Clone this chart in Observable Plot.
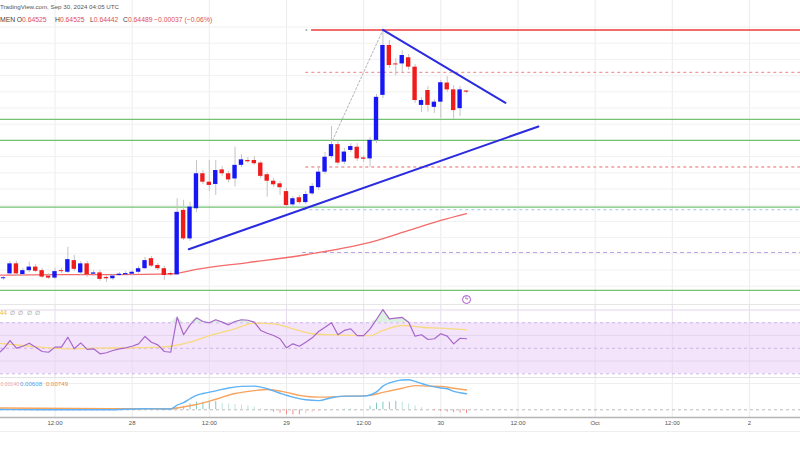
<!DOCTYPE html>
<html><head><meta charset="utf-8">
<script src="https://cdn.jsdelivr.net/npm/d3@7"></script>
<script src="https://cdn.jsdelivr.net/npm/@observablehq/plot@0.6"></script>
<style>
html,body{margin:0;padding:0;background:#fff;}
#wrap{position:relative;width:800px;height:450px;overflow:hidden;background:#fff;font-family:"Liberation Sans",Arial,sans-serif;}
#wrap svg{position:absolute;left:0;overflow:hidden;}
.t{position:absolute;white-space:pre;line-height:1;}
.sep{position:absolute;left:0;width:800px;height:1px;}
</style></head><body><div id="wrap"></div>
<script>
// ---------- DATA (hours since 27 Sep 2024 00:00 UTC, hourly candles) ----------
const viewHours = [3.524, 127.94];
const tickHours = [12, 24, 36, 48, 60, 72, 84, 96, 108, 120];
const tickLabels = ["12:00", "28", "12:00", "29", "12:00", "30", "12:00", "Oct", "12:00", "2"];

const firstCandleHour = 4;
const opens = [
0.5873,0.5888,0.5919,0.5886,0.5898,0.5909,0.5898,0.5881,0.5875,0.5898,
0.5893,0.5929,0.5891,0.5919,0.5887,0.5891,0.5877,0.5873,0.5883,0.5885,
0.5887,0.5893,0.5904,0.5935,0.5914,0.5904,0.5889,0.5885,0.6084,0.5996,
0.6089,0.6197,0.6171,0.6164,0.6209,0.6197,0.6181,0.6223,0.6238,0.6238,
0.6230,0.6194,0.6174,0.6166,0.6142,0.6101,0.6123,0.6108,0.6135,0.6154,
0.6202,0.6250,0.6287,0.6233,0.6269,0.6279,0.6246,0.6243,0.6300,0.6439,
0.6593,0.6536,0.6536,0.6555,0.6526,0.6408,0.6454,0.6402,0.6418,0.6477,
0.6456,0.6398,0.64525];
const highs = [
0.5883,0.5926,0.5926,0.5905,0.5924,0.5917,0.5905,0.5889,0.5905,0.5905,
0.5970,0.5945,0.5926,0.5926,0.5898,0.5898,0.5883,0.5886,0.5892,0.5895,
0.5898,0.5911,0.5939,0.5942,0.5920,0.5911,0.5895,0.6120,0.6115,0.6109,
0.6238,0.6207,0.6238,0.6238,0.6219,0.6204,0.6279,0.6256,0.6247,0.6250,
0.6235,0.6201,0.6182,0.6173,0.6152,0.6127,0.6130,0.6142,0.6167,0.6213,
0.6263,0.6343,0.6300,0.6275,0.6290,0.6290,0.6253,0.6309,0.6442,0.6641,
0.6608,0.6553,0.6577,0.6565,0.6534,0.6432,0.6466,0.6426,0.6485,0.6497,
0.6469,0.6466,0.64525];
const lows = [
0.5868,0.5883,0.5880,0.5880,0.5892,0.5892,0.5874,0.5871,0.5871,0.5889,
0.5889,0.5895,0.5883,0.5877,0.5880,0.5865,0.5862,0.5868,0.5880,0.5883,
0.5883,0.5889,0.5902,0.5908,0.5898,0.5868,0.5880,0.5883,0.5991,0.5988,
0.6077,0.6164,0.6142,0.6130,0.6189,0.6170,0.6156,0.6216,0.6229,0.6223,
0.6182,0.6125,0.6155,0.6130,0.6093,0.6096,0.6102,0.6102,0.6130,0.6145,
0.6195,0.6244,0.6223,0.6226,0.6263,0.6235,0.6232,0.6217,0.6290,0.6429,
0.6522,0.6500,0.6510,0.6516,0.6414,0.6386,0.6387,0.6383,0.6368,0.6448,
0.6365,0.6374,0.64442];
const closes = [
0.5876,0.5919,0.5888,0.5898,0.5909,0.5896,0.5878,0.5875,0.5895,0.5895,
0.5932,0.5902,0.5919,0.5885,0.5891,0.5871,0.5873,0.5881,0.5887,0.5889,
0.5893,0.5904,0.5929,0.5912,0.5904,0.5883,0.5885,0.6078,0.5996,0.6094,
0.6197,0.6171,0.6161,0.6207,0.6197,0.6178,0.6223,0.6240,0.6234,0.6228,
0.6189,0.6174,0.6163,0.6154,0.6099,0.6120,0.6108,0.6133,0.6158,0.6202,
0.6248,0.6287,0.6230,0.6264,0.6281,0.6243,0.6242,0.6300,0.6433,0.6593,
0.6531,0.6533,0.6562,0.6526,0.6423,0.6423,0.6408,0.6418,0.6478,0.6456,
0.6392,0.6456,0.64489];

// moving average (red) read at sample hours
const maHours = [3, 12, 22, 30, 34, 42, 50, 57, 62, 67, 72, 76];
const maValues = [0.5884, 0.5886, 0.5886, 0.5888, 0.5902, 0.5923, 0.5944, 0.5968, 0.5991, 0.6022, 0.6053, 0.6074];

// horizontal levels
const priceGrid = [0.585,0.590,0.595,0.600,0.605,0.610,0.615,0.620,0.625,0.630,0.635,0.640,0.645,0.650,0.655,0.660,0.665];
const greenLevels = [0.6365, 0.6300, 0.6094, 0.5837];
const redLevel = [0.6641];
const pinkLevels = [0.6510, 0.6218];
const blueDashLevel = [0.6086];
const purpleDashLevel = [0.5954];
const levelStartHour = 51;

// drawn trend lines
const supportLine = [{h: 32.81, p: 0.5964}, {h: 87.19, p: 0.6343}];
const resistanceLine = [{h: 63.0, p: 0.6641}, {h: 82.06, p: 0.6416}];
const guideLine = [{h: 55.16, p: 0.6300}, {h: 63.0, p: 0.6641}];
const anchorDot = [{h: 51.1, p: 0.6641}];
const events = [{h: 76, label: "ϟ"}];

// RSI (hourly from h=3) and its moving average
const rsiFirstHour = 3;
const rsiValues = [
45.1,49.6,56.1,50.1,51.6,54.0,50.9,47.5,46.9,50.9,
50.9,58.7,49.6,54.3,49.1,49.6,45.7,46.5,48.3,49.6,
50.4,51.6,53.5,59.3,54.8,52.7,47.5,46.9,74.4,60.6,
68.4,73.9,71.0,70.0,72.4,70.5,68.4,71.0,72.4,72.0,
70.5,64.0,61.8,60.0,57.5,50.4,53.5,51.6,54.8,58.2,
63.2,66.5,70.0,60.6,64.0,65.3,60.0,60.0,65.3,72.6,
80.4,73.1,73.6,74.2,70.5,59.5,60.6,56.9,57.5,61.4,
59.5,53.5,57.9,57.5];
const rsiMaHours = [3,7,11,14,19,24,28,30,33,36,40,43,46,49,52,55,61,63,66,69,72,76];
const rsiMaValues = [54.0,52.2,50.4,49.6,50.1,50.4,50.9,51.6,54.8,60.0,65.3,69.7,69.2,65.3,61.4,60.6,60.0,64.0,67.9,66.5,65.8,64.5];
const rsiBand = [30, 70];
const rsiDashed = [70, 50, 30];
const rsiGrid = [80, 60, 40];

// MACD
const macdHours = [3,10,20,26,29,30,31,32,33,34,35,37,39,41,43,45,47,49,51,53,55,57,60,62,63,64,65,66,67,68,69,70,71,72,73,74,75,76];
const macdValues = [0.0001,0.0000,0.0000,0.0004,0.0003,0.0003,0.0018,0.0027,0.0042,0.0055,0.0062,0.0072,0.0083,0.0089,0.0090,0.0080,0.0063,0.0048,0.0038,0.0035,0.0046,0.0052,0.0052,0.0068,0.0090,0.0102,0.0109,0.0113,0.0114,0.0108,0.0100,0.0093,0.0087,0.0083,0.0080,0.0070,0.0065,0.0061];
const signalHours = [3,15,30,31,34,37,40,43,45,48,50,53,57,61,63,66,68,70,72,74,76];
const signalValues = [0.0007,0.0005,0.0004,0.0007,0.0020,0.0040,0.0062,0.0073,0.0077,0.0066,0.0055,0.0048,0.0051,0.0055,0.0066,0.0082,0.0092,0.0090,0.0089,0.0082,0.0075];
const histFirstHour = 30;
const histValues = [
0.0000,0.0008,0.0013,0.0023,0.0029,0.0029,0.0030,0.0032,0.0025,0.0022,
0.0020,0.0018,0.0015,0.0010,0.0004,-0.0003,-0.0009,-0.0013,-0.0019,-0.0019,
-0.0019,-0.0015,-0.0011,-0.0007,-0.0004,-0.0002,0.0000,0.0002,0.0002,0.0001,
0.0001,0.0013,0.0025,0.0029,0.0029,0.0032,0.0029,0.0022,0.0015,0.0008,
0.0002,-0.0003,-0.0006,-0.0009,-0.0011,-0.0012,-0.0014];

// ---------- BUILD ----------
const candles = opens.map((o, i) => ({h: firstCandleHour + i, o, hi: highs[i], lo: lows[i], c: closes[i]}));
const ma = maHours.map((h, i) => ({h, v: maValues[i]}));
const rsi = rsiValues.map((v, i) => ({h: rsiFirstHour + i, v}));
const rsiMa = rsiMaHours.map((h, i) => ({h, v: rsiMaValues[i]}));
const macd = macdHours.map((h, i) => ({h, v: macdValues[i]}));
const signal = signalHours.map((h, i) => ({h, v: signalValues[i]}));
const hist = histValues.map((v, i) => ({h: histFirstHour + i, v, prev: i ? histValues[i - 1] : 0}));
const labelByHour = new Map(tickHours.map((h, i) => [h, tickLabels[i]]));

const UP = "#1717f5", DOWN = "#f01b1b";
const font = "'Liberation Sans', Arial, sans-serif";
const wrap = document.getElementById("wrap");

function place(el, top) { el.style.top = top + "px"; wrap.appendChild(el); }

// Price panel
const pricePlot = Plot.plot({
  width: 800, height: 304, margin: 0,
  style: {fontFamily: font, background: "transparent"},
  x: {domain: viewHours, axis: null, label: null},
  y: {domain: [0.579352, 0.673179], axis: null, label: null},
  marks: [
    Plot.ruleX(tickHours, {stroke: "#ececec"}),
    Plot.ruleY(priceGrid, {stroke: "#f1f1f1"}),
    Plot.ruleY(greenLevels, {stroke: "#5cb85c", strokeWidth: 1.4, strokeOpacity: 0.85}),
    Plot.ruleY(pinkLevels, {x1: levelStartHour, x2: viewHours[1], stroke: "#f49a9a", strokeWidth: 1.4, strokeDasharray: "3,3"}),
    Plot.ruleY(blueDashLevel, {x1: levelStartHour - 0.3, x2: viewHours[1], stroke: "#9cc3e6", strokeWidth: 1, strokeDasharray: "3,3"}),
    Plot.ruleY(purpleDashLevel, {x1: levelStartHour - 0.5, x2: viewHours[1], stroke: "#b9a3e3", strokeWidth: 1, strokeDasharray: "4,3"}),
    Plot.ruleY(redLevel, {x1: levelStartHour + 0.9, x2: viewHours[1], stroke: "#ee3b3b", strokeWidth: 1.5}),
    Plot.line(ma, {x: "h", y: "v", stroke: "#f36b6b", strokeWidth: 1.3, curve: "monotone-x"}),
    Plot.ruleX(candles, {x: "h", y1: "lo", y2: "hi", stroke: "#c4c4c4", strokeWidth: 1}),
    Plot.rect(candles, {x1: d => d.h - 0.34, x2: d => d.h + 0.34, y1: "o", y2: "c", fill: d => d.c >= d.o ? UP : DOWN}),
    Plot.line(guideLine, {x: "h", y: "p", stroke: "#b5b5b5", strokeWidth: 1, strokeDasharray: "2,2"}),
    Plot.line(supportLine, {x: "h", y: "p", stroke: "#2b2be0", strokeWidth: 2}),
    Plot.line(resistanceLine, {x: "h", y: "p", stroke: "#2b2be0", strokeWidth: 2}),
    Plot.dot(anchorDot, {x: "h", y: "p", r: 1, fill: "#aaaaaa"}),
    Plot.dot(events, {x: "h", frameAnchor: "bottom", dy: -5, r: 4, stroke: "#b24fd3", fill: "white", strokeWidth: 1}),
    Plot.text(events, {x: "h", text: "label", frameAnchor: "bottom", dy: -5, fill: "#b24fd3", fontSize: 6, fontWeight: "bold"})
  ]
});
place(pricePlot, 0);

// RSI panel
const rsiPlot = Plot.plot({
  width: 800, height: 73, margin: 0,
  style: {fontFamily: font, background: "transparent"},
  x: {domain: viewHours, axis: null, label: null},
  y: {domain: [27.1, 84.35], axis: null, label: null},
  marks: [
    Plot.rectY([rsiBand], {x1: viewHours[0], x2: viewHours[1], y1: d => d[0], y2: d => d[1], fill: "#f3e4fc"}),
    Plot.ruleX(tickHours, {stroke: "#e6dcee"}),
    Plot.ruleY(rsiGrid, {stroke: "#e4d6ee"}),
    Plot.ruleY(rsiDashed, {stroke: "#cdb6e4", strokeDasharray: "3,3"}),
    Plot.areaY(rsi, {x: "h", y1: rsiBand[1], y2: d => Math.max(rsiBand[1], d.v), fill: "#d8f0de", fillOpacity: 0.9}),
    Plot.line(rsiMa, {x: "h", y: "v", stroke: "#f8d97e", strokeWidth: 1.3, curve: "monotone-x"}),
    Plot.line(rsi, {x: "h", y: "v", stroke: "#a866c9", strokeWidth: 1.2})
  ]
});
place(rsiPlot, 304);

// MACD panel with time axis
const macdPlot = Plot.plot({
  width: 800, height: 73, marginTop: 0, marginLeft: 0, marginRight: 0, marginBottom: 33,
  style: {fontFamily: font, background: "transparent", color: "#555"},
  x: {domain: viewHours, label: null},
  y: {domain: [-0.002926, 0.012274], axis: null, label: null},
  marks: [
    Plot.ruleX(tickHours, {stroke: "#ececec"}),
    Plot.ruleY([0.01], {stroke: "#eeeeee"}),
    Plot.ruleY([0], {stroke: "#bdbdbd", strokeDasharray: "3,3"}),
    Plot.ruleX(hist, {x: "h", y1: 0, y2: "v", strokeWidth: 1,
      stroke: d => d.v >= 0 ? (d.v >= d.prev ? "#7fcbc2" : "#bfe3de") : (d.v <= d.prev ? "#f58a8a" : "#f9c4c4")}),
    Plot.line(signal, {x: "h", y: "v", stroke: "#f7a45e", strokeWidth: 1.4, curve: "monotone-x"}),
    Plot.line(macd, {x: "h", y: "v", stroke: "#5fb2f5", strokeWidth: 1.4, curve: "monotone-x"}),
    Plot.ruleY([-0.002926], {stroke: "#b5b5b5", strokeWidth: 1.5}),
    Plot.axisX(tickHours, {tickSize: 0, tickPadding: 3, fontSize: 6, fill: "#555", label: null, tickFormat: d => labelByHour.get(d)})
  ]
});
place(macdPlot, 377);

// separators
[[304, "#e6e6e6"], [377, "#e3e3e3"], [431, "#eeeeee"]].forEach(([y, c]) => {
  const s = document.createElement("div"); s.className = "sep"; s.style.background = c; place(s, y);
});

// texts
function txt(x, yc, s, color, size, weight) {
  const el = document.createElement("div"); el.className = "t";
  el.textContent = s; el.style.left = x + "px"; el.style.color = color;
  el.style.fontSize = size + "px"; if (weight) el.style.fontWeight = weight;
  el.style.top = (yc - size / 2) + "px"; wrap.appendChild(el); return el;
}
txt(0, 6.8, "TradingView.com, Sep 30, 2024 04:05 UTC", "#555", 6.2);
const hdr = [["MEN", 0], ["O", 16.7], ["H", 55], ["L", 90], ["C", 123]];
const hdrVals = ["", "0.64525", "0.64525", "0.64442", "0.64489"];
hdr.forEach(([lab, x], i) => {
  const el = txt(x, 20.5, lab, "#444", 6.8);
  if (hdrVals[i]) { const sp = document.createElement("span"); sp.textContent = hdrVals[i]; sp.style.color = "#e0504f"; el.appendChild(sp); }
});
txt(154, 20.5, "−0.00037 (−0.06%)", "#e0504f", 6.8);
// RSI legend
txt(0, 313.3, "44", "#e9be2a", 6.3);
txt(10, 313.3, "∅  ∅  ∅  ∅", "#888", 6.3);
// MACD legend
txt(0.5, 384.5, "0.00140", "#f3a5a5", 5.2);
txt(20, 384.5, "0.00608", "#4aa3f0", 6.1);
txt(46, 384.5, "0.00749", "#f08a3a", 6.1);
</script></body></html>
